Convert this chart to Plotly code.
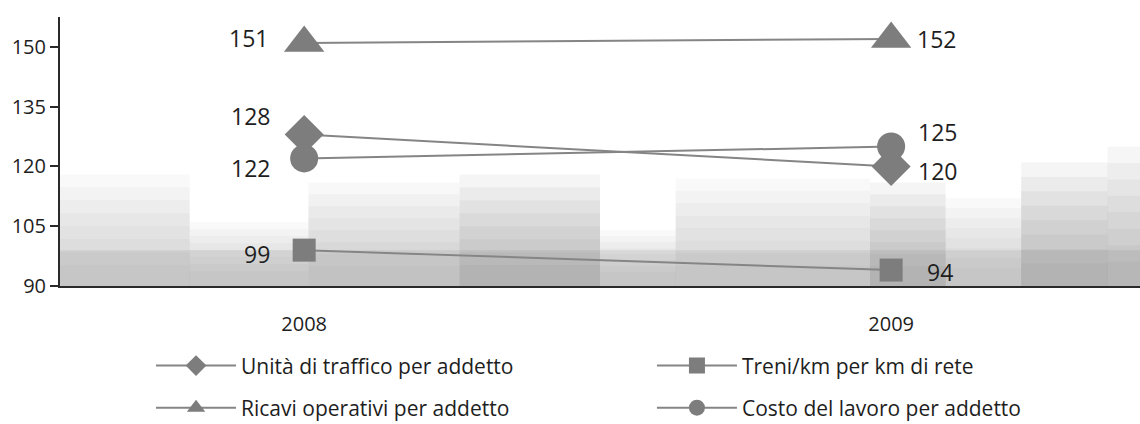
import plotly.graph_objects as go

# Years on the category axis
years = ["2008", "2009"]

# Index values per indicator
unita_traffico = [128, 120]
treni_km = [99, 94]
ricavi_operativi = [151, 152]
costo_lavoro = [122, 125]

series_names = [
    "Unità di traffico per addetto",
    "Treni/km per km di rete",
    "Ricavi operativi per addetto",
    "Costo del lavoro per addetto",
]

y_ticks = [90, 105, 120, 135, 150]

GREY = "#7d7d7d"
LINE = "#858585"
TEXT = "#1e1e1e"
FONT = "Open Sans"

# name, values, symbol, marker size, legend slot
series = [
    (series_names[0], unita_traffico, "diamond", 30, "legend"),
    (series_names[1], treni_km, "square", 23, "legend2"),
    (series_names[2], ricavi_operativi, "triangle-up", 35, "legend3"),
    (series_names[3], costo_lavoro, "circle", 28, "legend4"),
]

fig = go.Figure()
for name, vals, sym, size, leg in series:
    fig.add_trace(go.Scatter(
        x=years, y=vals, name=name, mode="lines+markers",
        line=dict(color=LINE, width=2),
        marker=dict(symbol=sym, size=size, color=GREY, line=dict(width=0)),
        cliponaxis=False, legend=leg,
    ))

# Value labels: left of the 2008 markers, right of the 2009 markers
label_shift = {
    series_names[0]: [(-32, 19), (25, -5)],
    series_names[1]: [(-32, -4), (34, -2)],
    series_names[2]: [(-34, 5), (24, 0)],
    series_names[3]: [(-32, -10), (25, 15)],
}
for name, vals, sym, size, leg in series:
    for i, v in enumerate(vals):
        dx, dy = label_shift[name][i]
        fig.add_annotation(
            x=i, xref="x", y=v, yref="y", text=str(v), showarrow=False,
            xanchor="right" if i == 0 else "left", yanchor="middle",
            xshift=dx, yshift=dy,
            font=dict(family=FONT, size=23, color=TEXT),
        )

# Soft grey backdrop in the lower band of the plot, built from
# stacked translucent bands so the upper edges fade out
blocks = [
    (0.00, 0.12, 118, 0.045),
    (0.12, 0.23, 106, 0.045),
    (0.23, 0.37, 116, 0.05),
    (0.37, 0.50, 118, 0.07),
    (0.50, 0.57, 104, 0.045),
    (0.57, 0.75, 117, 0.045),
    (0.75, 0.82, 116, 0.065),
    (0.82, 0.89, 112, 0.045),
    (0.89, 0.97, 121, 0.065),
    (0.97, 1.00, 125, 0.06),
]
steps = 8
for x0, x1, top, op in blocks:
    for k in range(steps):
        fig.add_shape(type="rect", xref="paper", yref="y",
                      x0=x0, x1=x1, y0=90, y1=top - k * (top - 92) / steps,
                      fillcolor=f"rgba(110,110,110,{op})", line=dict(width=0),
                      layer="below")
fig.add_shape(type="rect", xref="paper", yref="y",
              x0=0, x1=1, y0=90, y1=99,
              fillcolor="rgba(110,110,110,0.12)", line=dict(width=0),
              layer="below")

legend_style = dict(
    orientation="h", xanchor="left", yanchor="middle",
    font=dict(family=FONT, size=21, color=TEXT),
    itemwidth=80, bgcolor="rgba(0,0,0,0)",
)
col_x = [0.0843, 0.5481]
row_y = [-0.297, -0.4535]

fig.update_layout(
    width=1140, height=424,
    margin=dict(l=60, r=0, t=17, b=138, autoexpand=False),
    paper_bgcolor="white", plot_bgcolor="white",
    font=dict(family=FONT, color=TEXT),
    showlegend=True,
    legend=dict(x=col_x[0], y=row_y[0], **legend_style),
    legend2=dict(x=col_x[1], y=row_y[0], **legend_style),
    legend3=dict(x=col_x[0], y=row_y[1], **legend_style),
    legend4=dict(x=col_x[1], y=row_y[1], **legend_style),
    xaxis=dict(
        type="category", range=[-0.416, 1.424],
        showgrid=False, zeroline=False, showline=True,
        linecolor="#2a2a2a", linewidth=2,
        ticks="", ticklabelstandoff=19,
        tickfont=dict(family=FONT, size=20, color=TEXT),
    ),
    yaxis=dict(
        range=[90, 157.5], tickvals=y_ticks,
        showgrid=False, zeroline=False, showline=True,
        linecolor="#2a2a2a", linewidth=2,
        ticks="outside", ticklen=8, tickcolor="#2a2a2a", tickwidth=1.5,
        tickfont=dict(family=FONT, size=20, color=TEXT),
    ),
)

fig.write_html("out.html")
